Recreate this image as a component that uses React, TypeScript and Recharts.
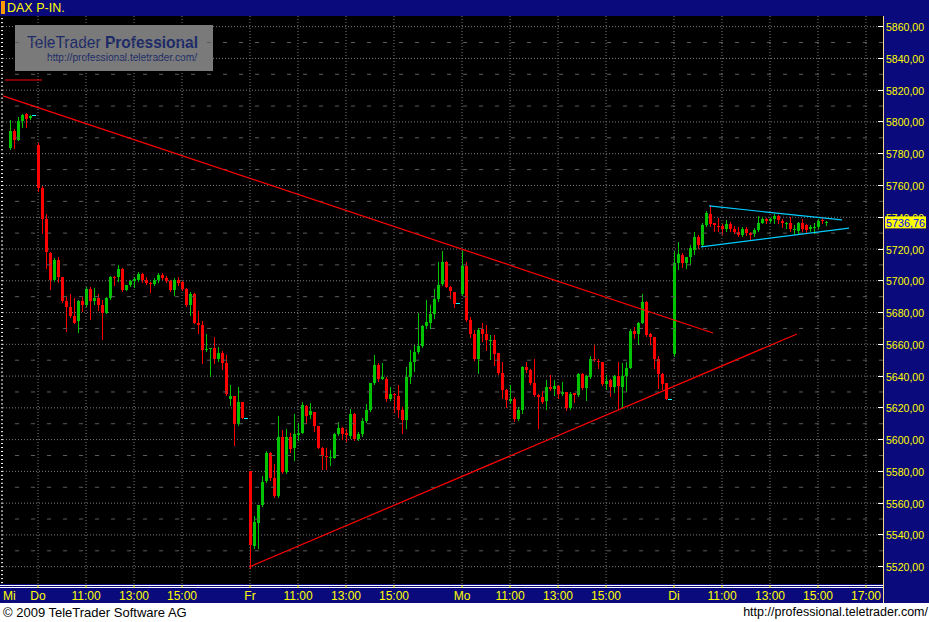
import { ComposedChart, Bar, Scatter, XAxis, YAxis, CartesianGrid, ReferenceLine } from 'recharts';

type OHLC = [number, number, number, number];

// 10-minute bars, [open, high, low, close]
const wedBars: OHLC[] = [
  [5783.8, 5801.2, 5782.8, 5794.3], [5794.3, 5795.4, 5783.8, 5788.7], [5788.7, 5802.9, 5788.5, 5800.6],
  [5800.6, 5805.0, 5797.0, 5804.4], [5805.0, 5805.9, 5797.0, 5801.9], [5802.3, 5804.4, 5801.9, 5803.8],
];

const thuBars: OHLC[] = [
  [5785.5, 5786.6, 5756.7, 5758.2], [5758.2, 5759.7, 5730.3, 5738.9], [5738.9, 5742.0, 5708.3, 5718.3],
  [5717.3, 5718.3, 5695.0, 5700.5], [5700.5, 5714.1, 5700.1, 5713.1], [5713.1, 5714.8, 5699.2, 5702.6],
  [5702.2, 5702.6, 5686.6, 5687.3], [5687.3, 5690.0, 5668.6, 5683.7], [5683.7, 5691.7, 5677.0, 5677.8],
  [5677.8, 5689.2, 5673.6, 5673.6], [5674.7, 5687.9, 5668.0, 5687.3], [5687.3, 5690.0, 5681.2, 5684.7],
  [5684.7, 5695.9, 5684.3, 5694.8], [5694.8, 5695.9, 5675.9, 5687.5], [5687.1, 5695.2, 5685.4, 5689.2],
  [5689.2, 5691.7, 5681.6, 5684.7], [5684.7, 5687.9, 5663.5, 5679.9], [5679.9, 5689.6, 5679.5, 5689.2],
  [5689.2, 5703.0, 5688.5, 5702.6], [5702.6, 5703.0, 5697.3, 5701.9], [5702.6, 5709.9, 5700.1, 5707.4],
  [5707.4, 5707.8, 5693.8, 5694.2], [5694.2, 5697.3, 5694.2, 5697.3], [5697.3, 5700.5, 5696.9, 5700.1],
  [5700.1, 5702.6, 5696.3, 5701.1], [5700.5, 5705.5, 5700.1, 5704.3], [5704.3, 5705.1, 5699.4, 5700.5],
  [5700.5, 5702.6, 5698.0, 5698.8], [5698.8, 5699.4, 5693.1, 5698.4], [5698.0, 5701.5, 5697.3, 5700.5],
  [5700.5, 5704.7, 5699.4, 5703.4], [5703.4, 5704.7, 5701.3, 5701.7], [5701.7, 5703.0, 5699.4, 5700.1],
  [5700.1, 5700.5, 5693.8, 5694.2], [5694.2, 5701.5, 5691.0, 5700.5], [5700.5, 5702.2, 5697.3, 5698.4],
  [5699.4, 5700.1, 5694.2, 5694.6], [5694.8, 5695.2, 5684.3, 5684.7], [5684.7, 5693.1, 5678.5, 5691.7],
  [5691.7, 5692.1, 5673.2, 5673.6], [5673.6, 5680.9, 5667.3, 5672.2], [5672.2, 5674.7, 5648.0, 5656.4],
  [5656.4, 5666.5, 5655.5, 5657.2], [5657.0, 5657.8, 5640.0, 5657.6], [5657.9, 5664.4, 5648.0, 5650.8],
  [5650.8, 5658.5, 5649.5, 5654.7], [5654.7, 5655.8, 5644.7, 5648.4], [5648.4, 5653.3, 5628.1, 5628.7],
  [5625.3, 5634.4, 5621.8, 5627.5], [5627.5, 5627.5, 5596.6, 5609.8], [5609.8, 5632.9, 5609.2, 5623.9],
  [5623.9, 5623.9, 5613.6, 5613.6],
];

const friBars: OHLC[] = [
  [5580.2, 5580.2, 5518.9, 5533.6], [5533.0, 5551.9, 5531.5, 5548.1], [5547.7, 5558.8, 5531.5, 5558.8],
  [5558.8, 5577.1, 5558.2, 5573.3], [5573.9, 5592.8, 5573.1, 5591.4], [5591.4, 5592.4, 5574.6, 5576.0],
  [5576.0, 5584.6, 5564.1, 5564.5], [5564.5, 5614.8, 5563.6, 5601.4], [5601.4, 5606.0, 5578.8, 5579.8],
  [5579.8, 5606.7, 5579.2, 5601.4], [5601.4, 5604.4, 5592.4, 5594.1], [5594.7, 5616.1, 5587.2, 5603.5],
  [5602.9, 5610.2, 5599.7, 5604.4], [5604.4, 5623.9, 5604.0, 5621.8], [5621.1, 5621.8, 5610.2, 5615.1],
  [5615.5, 5622.8, 5613.4, 5618.0], [5617.2, 5617.2, 5605.6, 5608.6], [5608.6, 5608.6, 5594.5, 5594.9],
  [5594.9, 5595.6, 5581.5, 5589.9], [5589.7, 5594.5, 5581.5, 5589.3], [5588.6, 5593.5, 5584.0, 5589.0],
  [5588.6, 5603.9, 5588.2, 5603.5], [5603.5, 5610.9, 5602.9, 5607.1], [5607.1, 5608.1, 5600.4, 5603.5],
  [5603.9, 5606.5, 5599.3, 5602.7], [5602.3, 5619.1, 5600.8, 5616.1], [5616.1, 5616.5, 5599.7, 5600.2],
  [5600.2, 5605.0, 5599.7, 5603.5], [5603.3, 5613.4, 5602.3, 5611.7], [5611.7, 5622.4, 5610.9, 5618.6],
  [5618.6, 5635.9, 5618.2, 5635.4], [5635.4, 5653.1, 5635.0, 5646.8], [5646.8, 5648.4, 5637.1, 5637.9],
  [5638.4, 5648.0, 5637.9, 5639.2], [5637.9, 5639.6, 5624.5, 5625.8], [5625.8, 5633.3, 5624.9, 5628.7],
  [5628.7, 5629.1, 5617.6, 5627.9], [5627.5, 5634.4, 5614.4, 5618.6], [5618.6, 5620.3, 5604.4, 5612.3],
  [5612.3, 5645.9, 5607.1, 5639.6], [5639.6, 5656.4, 5635.8, 5648.9], [5648.9, 5659.6, 5643.4, 5655.2],
  [5655.2, 5679.5, 5654.7, 5658.9], [5658.9, 5672.2, 5658.1, 5671.5], [5671.5, 5687.9, 5670.1, 5674.1],
  [5673.6, 5684.8, 5670.1, 5679.1], [5679.1, 5694.6, 5676.4, 5688.3], [5688.3, 5712.0, 5687.5, 5697.4],
  [5697.8, 5718.8, 5697.4, 5712.0], [5712.0, 5712.5, 5695.9, 5696.3], [5696.3, 5696.7, 5688.9, 5693.8],
  [5692.9, 5692.9, 5683.7, 5685.4],
];

const monBars: OHLC[] = [
  [5691.7, 5718.7, 5691.0, 5709.3], [5709.3, 5711.6, 5674.7, 5675.3], [5675.3, 5677.0, 5664.4, 5666.5],
  [5666.5, 5669.0, 5650.1, 5650.5], [5650.7, 5670.1, 5642.1, 5669.0], [5669.4, 5673.2, 5662.3, 5666.5],
  [5666.5, 5672.2, 5656.4, 5662.7], [5662.1, 5665.9, 5650.5, 5662.9], [5662.7, 5665.9, 5647.0, 5653.9],
  [5654.3, 5654.7, 5641.3, 5641.7], [5641.7, 5649.1, 5626.0, 5631.2], [5631.2, 5631.6, 5620.7, 5624.9],
  [5624.5, 5634.4, 5622.8, 5625.3], [5625.3, 5627.0, 5611.9, 5612.8], [5612.8, 5620.7, 5612.3, 5618.6],
  [5618.6, 5646.3, 5617.0, 5645.9], [5645.9, 5648.6, 5642.8, 5643.8], [5643.8, 5644.2, 5635.0, 5635.4],
  [5635.4, 5650.9, 5627.4, 5628.1], [5627.9, 5628.7, 5607.1, 5627.0], [5626.6, 5630.6, 5622.8, 5623.9],
  [5624.3, 5637.5, 5619.5, 5632.9], [5633.3, 5640.7, 5631.2, 5632.1], [5632.1, 5637.5, 5628.1, 5633.7],
  [5633.7, 5634.2, 5626.0, 5628.7], [5628.7, 5636.5, 5628.1, 5630.0], [5630.0, 5630.2, 5618.6, 5619.7],
  [5619.7, 5630.2, 5619.1, 5628.7], [5629.1, 5629.5, 5623.9, 5628.3], [5628.1, 5641.7, 5627.4, 5641.3],
  [5641.3, 5641.7, 5632.1, 5632.5], [5632.5, 5640.7, 5624.9, 5640.0], [5639.6, 5652.6, 5638.6, 5650.5],
  [5651.0, 5659.3, 5649.7, 5650.1], [5649.7, 5650.5, 5644.9, 5649.3], [5648.9, 5649.1, 5634.4, 5635.0],
  [5635.0, 5640.7, 5631.6, 5637.1], [5637.5, 5638.0, 5627.4, 5633.3], [5633.3, 5640.7, 5630.2, 5640.0],
  [5640.0, 5649.1, 5619.1, 5633.7], [5633.3, 5648.4, 5619.7, 5640.0], [5640.0, 5649.1, 5630.8, 5645.3],
  [5645.3, 5669.4, 5644.9, 5668.6], [5668.6, 5670.7, 5663.8, 5666.5], [5666.5, 5674.3, 5660.2, 5673.6],
  [5673.6, 5691.7, 5673.2, 5686.8], [5686.8, 5687.5, 5665.2, 5665.9], [5666.5, 5666.9, 5660.2, 5664.4],
  [5664.4, 5664.8, 5644.9, 5650.5], [5650.5, 5652.6, 5632.3, 5641.3], [5641.3, 5642.1, 5631.6, 5635.0],
  [5635.4, 5635.8, 5625.4, 5625.8],
];

const tueBars: OHLC[] = [
  [5653.9, 5718.8, 5652.8, 5711.0], [5711.4, 5724.6, 5707.2, 5716.9], [5716.2, 5717.7, 5708.5, 5711.4],
  [5711.4, 5715.2, 5707.8, 5715.2], [5715.2, 5722.5, 5710.6, 5720.4], [5719.4, 5730.9, 5716.9, 5727.8],
  [5727.8, 5728.8, 5720.4, 5722.5], [5722.5, 5736.6, 5721.9, 5735.1], [5735.1, 5744.2, 5734.5, 5742.5],
  [5742.1, 5747.7, 5734.5, 5735.8], [5736.2, 5736.6, 5731.6, 5735.3], [5734.5, 5739.3, 5731.6, 5733.7],
  [5734.5, 5735.8, 5729.5, 5732.4], [5732.4, 5738.3, 5731.6, 5735.8], [5735.8, 5737.2, 5731.6, 5732.4],
  [5732.4, 5734.5, 5730.3, 5730.9], [5730.9, 5733.7, 5728.2, 5728.8], [5728.8, 5733.7, 5728.2, 5732.4],
  [5732.4, 5734.1, 5728.8, 5729.9], [5729.9, 5730.9, 5725.7, 5729.0], [5729.5, 5733.0, 5728.2, 5732.0],
  [5732.0, 5740.8, 5731.6, 5736.6], [5736.6, 5740.0, 5736.2, 5738.7], [5738.7, 5739.3, 5736.2, 5737.9],
  [5737.9, 5739.3, 5737.2, 5738.7], [5738.7, 5742.1, 5736.6, 5740.8], [5740.8, 5741.4, 5736.2, 5738.3],
  [5737.9, 5738.7, 5733.7, 5736.2], [5736.2, 5737.0, 5733.0, 5736.6], [5736.6, 5740.0, 5731.6, 5732.4],
  [5732.0, 5735.1, 5729.5, 5732.4], [5731.6, 5737.2, 5730.3, 5736.6], [5736.6, 5738.7, 5731.6, 5732.4],
  [5735.1, 5735.8, 5729.9, 5732.0], [5732.4, 5735.1, 5731.6, 5733.7], [5733.7, 5736.2, 5730.3, 5734.1],
  [5734.1, 5738.7, 5733.0, 5737.9], [5738.3, 5739.3, 5736.6, 5737.4], [5736.2, 5737.9, 5735.1, 5737.0],
];

// first 10-min slot of each session (Thursday 9:00 = 0, 53 slots per day)
const sessionStarts = [-7, 0, 53, 106, 159];
const sessionBars = [wedBars, thuBars, friBars, monBars, tueBars];

// previous-close markers
const closeMarkSlots = [-1, 52, 105, 158];
const closeMarkValues = [5803.8, 5613.4, 5685.4, 5625.4];

const timeTicks = [-8.75, 0, 12, 24, 36, 53, 65, 77, 89, 106, 118, 130, 142, 159, 171, 183, 195, 207];
const timeLabels = ['Mi', 'Do', '11:00', '13:00', '15:00', 'Fr', '11:00', '13:00', '15:00', 'Mo', '11:00', '13:00', '15:00', 'Di', '11:00', '13:00', '15:00', '17:00'];

const priceTicks = [5520, 5540, 5560, 5580, 5600, 5620, 5640, 5660, 5680, 5700, 5720, 5740, 5760, 5780, 5800, 5820, 5840, 5860];
const LAST_PRICE = 5736.76;

// trend lines: [slot, price] -> [slot, price]
const redLines = [
  [[-8.75, 5816.4], [168.75, 5667.1]],
  [[52.75, 5519.8], [189.75, 5666.5]],
  [[-8.25, 5826.4], [1, 5826.4]],
];
const cyanLines = [
  [[167.75, 5747.1], [201, 5738.3]],
  [[165.75, 5721.3], [202.75, 5733.2]],
];

const X_DOMAIN: [number, number] = [-8.75, 211.25];
const Y_DOMAIN: [number, number] = [5509.1, 5866.7];
const GREEN = '#00c400';
const RED = '#ff0000';
const YELLOW = '#ffff00';
const NAVY = '#0a0a7c';
const FONT = '"Liberation Sans", Arial, sans-serif';

const candles = sessionBars.flatMap((bars, d) =>
  bars.map(([o, h, l, c], i) => ({ slot: sessionStarts[d] + i, o, h, l, c, range: [l, h] }))
);
const closeMarks = closeMarkSlots.map((slot, i) => ({ slot, mark: closeMarkValues[i] }));
const midLevels = priceTicks.map((t) => t + 10).filter((t) => t < Y_DOMAIN[1]);
const minorTicks: number[] = [];
for (let v = 5510; v <= 5865; v += 2.5) minorTicks.push(v);

const fmt = (v: number) => v.toFixed(2).replace('.', ',');

const Candle = (props: any) => {
  const { x, y, width, height, payload } = props;
  if (!payload || payload.o == null) return null;
  const { o, h, l, c } = payload;
  const top = Math.min(y, y + height);
  const bot = Math.max(y, y + height);
  const span = h - l;
  const py = (v: number) => (span === 0 ? top : top + ((h - v) / span) * (bot - top));
  const cx = Math.round(x + width / 2);
  const color = c >= o ? GREEN : RED;
  const yo = py(o);
  const yc = py(c);
  return (
    <g shapeRendering="crispEdges">
      <line x1={cx + 0.5} x2={cx + 0.5} y1={top} y2={bot + 1} stroke={color} />
      <rect x={cx - 1} y={Math.min(yo, yc)} width={3} height={Math.max(1, Math.abs(yo - yc))} fill={color} />
    </g>
  );
};

const CloseMark = (props: any) => (
  <line x1={props.cx - 2} x2={props.cx + 2} y1={props.cy} y2={props.cy} stroke="#00ffff" shapeRendering="crispEdges" />
);

const TimeTick = (props: any) => {
  const { x, y, payload } = props;
  const idx = timeTicks.indexOf(payload.value);
  const first = idx === 0;
  return (
    <g>
      {!first && <line x1={x} x2={x} y1={y + 1} y2={y + 4} stroke={YELLOW} />}
      <text x={x} y={y + 15.5} textAnchor={first ? 'start' : 'middle'} fill={YELLOW} fontSize={12} fontFamily={FONT}>
        {timeLabels[idx]}
      </text>
    </g>
  );
};

const PriceTick = (props: any) => {
  const { x, y, payload } = props;
  const v = payload.value;
  if (v === LAST_PRICE) {
    return (
      <g>
        <rect x={x + 2} y={y - 6} width={41} height={12} fill={YELLOW} />
        <text x={x + 3} y={y + 4.5} fill="#0000ff" fontSize={11.5} fontFamily={FONT} textLength={39} lengthAdjust="spacingAndGlyphs">
          {fmt(v)}
        </text>
      </g>
    );
  }
  return (
    <g>
      <line x1={x - 5} x2={x} y1={y} y2={y} stroke="#ffffff" shapeRendering="crispEdges" />
      <text x={x + 3} y={y + 4.5} fill={YELLOW} fontSize={11.5} fontFamily={FONT} textLength={38} lengthAdjust="spacingAndGlyphs">
        {fmt(v)}
      </text>
    </g>
  );
};

const MinorTick = (props: any) => (
  <line x1={props.x - 3} x2={props.x} y1={props.y} y2={props.y} stroke="#ffffff" shapeRendering="crispEdges" />
);

export default function App() {
  return (
    <div style={{ position: 'absolute', left: 0, top: 0, width: 929, height: 622, background: '#fff', overflow: 'hidden', fontFamily: FONT }}>
      {/* title bar */}
      <div style={{ position: 'absolute', left: 0, top: 0, width: 929, height: 16, background: NAVY }} />
      <div style={{ position: 'absolute', left: 1, top: 1, width: 4, height: 13, background: '#ff9900' }} />
      <div style={{ position: 'absolute', left: 7, top: 0, height: 16, lineHeight: '16px', fontSize: 12.5, color: YELLOW }}>DAX P-IN.</div>

      {/* plot background */}
      <div style={{ position: 'absolute', left: 0, top: 16, width: 883, height: 568, background: '#000' }} />
      {/* right axis panel */}
      <div style={{ position: 'absolute', left: 883, top: 16, width: 46, height: 587, background: NAVY, borderLeft: '1px solid #f4dc90', boxSizing: 'border-box' }} />
      {/* bottom axis band */}
      <div style={{ position: 'absolute', left: 0, top: 584, width: 883, height: 19, background: NAVY }} />
      <div style={{ position: 'absolute', left: 0, top: 585, width: 883, height: 1, background: '#fff' }} />
      <div style={{ position: 'absolute', left: 0, top: 587, width: 883, height: 1, background: '#fff' }} />

      {/* watermark */}
      <svg style={{ position: 'absolute', left: 15, top: 25 }} width={198} height={46}>
        <rect x={0} y={0} width={198} height={46} fill="#7a7a7a" />
        <text x={12} y={23} fontSize={17} fill="#1c2a68" fontFamily={FONT} textLength={171} lengthAdjust="spacingAndGlyphs">
          TeleTrader <tspan fontWeight="bold">Professional</tspan>
        </text>
        <text x={32} y={36} fontSize={10} fill="#1c2a68" fontFamily={FONT} textLength={150} lengthAdjust="spacingAndGlyphs">
          http://professional.teletrader.com/
        </text>
      </svg>

      <div style={{ position: 'absolute', left: 0, top: 16 }}>
        <ComposedChart width={929} height={587} data={candles} margin={{ top: 0, right: 0, bottom: 0, left: 0 }}>
          <CartesianGrid
            yAxisId="price"
            stroke="#7c7c7c"
            strokeDasharray="1 2"
            horizontalValues={priceTicks}
            verticalValues={timeTicks.slice(1)}
          />
          <XAxis
            type="number"
            dataKey="slot"
            domain={X_DOMAIN}
            allowDataOverflow
            ticks={timeTicks}
            interval={0}
            tick={<TimeTick />}
            tickLine={false}
            axisLine={false}
            tickSize={0}
            tickMargin={0}
            height={19}
          />
          <YAxis
            yAxisId="left"
            orientation="left"
            width={3}
            domain={Y_DOMAIN}
            allowDataOverflow
            ticks={minorTicks}
            interval={0}
            tickSize={2}
            tickLine={{ stroke: '#ffffff' }}
            tickFormatter={() => ''}
            axisLine={false}
          />
          <YAxis
            yAxisId="minor"
            orientation="right"
            width={0}
            domain={Y_DOMAIN}
            allowDataOverflow
            ticks={minorTicks}
            interval={0}
            tick={<MinorTick />}
            tickLine={false}
            axisLine={false}
            tickSize={0}
            tickMargin={0}
          />
          <YAxis
            yAxisId="price"
            orientation="right"
            width={46}
            domain={Y_DOMAIN}
            allowDataOverflow
            ticks={[...priceTicks, LAST_PRICE]}
            interval={0}
            tick={<PriceTick />}
            tickLine={false}
            axisLine={false}
            tickSize={0}
            tickMargin={0}
          />
          {midLevels.map((v) => (
            <ReferenceLine key={v} yAxisId="price" y={v} stroke="#5c5c5c" strokeDasharray="4 12" />
          ))}
          <Bar yAxisId="price" dataKey="range" barSize={3} shape={<Candle />} isAnimationActive={false} />
          <Scatter yAxisId="price" data={closeMarks} dataKey="mark" shape={<CloseMark />} isAnimationActive={false} />
          {redLines.map(([a, b], i) => (
            <ReferenceLine
              key={'r' + i}
              yAxisId="price"
              segment={[{ x: a[0], y: a[1] }, { x: b[0], y: b[1] }]}
              stroke={RED}
              strokeWidth={1.2}
            />
          ))}
          {cyanLines.map(([a, b], i) => (
            <ReferenceLine
              key={'c' + i}
              yAxisId="price"
              segment={[{ x: a[0], y: a[1] }, { x: b[0], y: b[1] }]}
              stroke="#00ccff"
              strokeWidth={1.2}
            />
          ))}
        </ComposedChart>
      </div>

      {/* footer */}
      <div style={{ position: 'absolute', left: 3, top: 604, fontSize: 13, color: '#000', lineHeight: '17px' }}>© 2009 TeleTrader Software AG</div>
      <div style={{ position: 'absolute', right: 1, top: 604, fontSize: 12.5, color: '#000', lineHeight: '17px' }}>http://professional.teletrader.com/</div>
    </div>
  );
}
